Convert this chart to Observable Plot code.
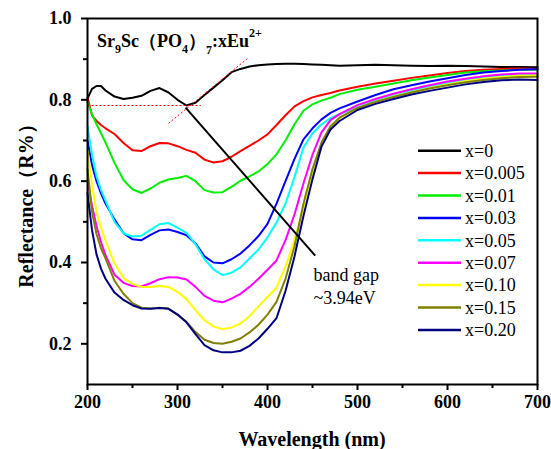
<!DOCTYPE html>
<html><head><meta charset="utf-8">
<script src="https://cdn.jsdelivr.net/npm/d3@7"></script>
<script src="https://cdn.jsdelivr.net/npm/@observablehq/plot@0.6"></script>
<style>body{margin:0;background:#fff} #chart{width:551px;height:449px}</style>
</head><body><div id="chart"></div>
<script>
const wavelength = [200,205,210,215,220,230,240,250,260,270,280,290,300,310,320,330,340,350,360,370,380,390,400,410,420,430,440,450,460,470,480,500,520,540,560,580,600,620,640,660,680,700];

const r_x0    = [0.803,0.827,0.834,0.834,0.823,0.808,0.802,0.805,0.810,0.822,0.829,0.818,0.800,0.786,0.793,0.812,0.830,0.848,0.868,0.876,0.882,0.885,0.887,0.888,0.889,0.889,0.888,0.887,0.886,0.885,0.884,0.885,0.886,0.885,0.884,0.883,0.884,0.883,0.882,0.881,0.881,0.880];
const r_x0005 = [0.806,0.762,0.748,0.738,0.730,0.716,0.694,0.676,0.674,0.686,0.694,0.693,0.686,0.677,0.670,0.653,0.646,0.649,0.660,0.674,0.687,0.700,0.715,0.738,0.762,0.784,0.797,0.806,0.812,0.817,0.823,0.832,0.840,0.847,0.854,0.860,0.866,0.871,0.874,0.876,0.877,0.876];
const r_x001  = [0.794,0.765,0.740,0.718,0.695,0.645,0.603,0.580,0.571,0.582,0.596,0.604,0.608,0.613,0.600,0.578,0.572,0.573,0.586,0.601,0.612,0.624,0.642,0.666,0.700,0.740,0.773,0.789,0.798,0.805,0.814,0.825,0.832,0.840,0.848,0.855,0.861,0.867,0.870,0.872,0.874,0.874];
const r_x003  = [0.700,0.640,0.600,0.570,0.545,0.506,0.472,0.457,0.455,0.468,0.479,0.481,0.475,0.467,0.447,0.415,0.400,0.398,0.408,0.422,0.442,0.465,0.495,0.545,0.600,0.655,0.703,0.730,0.752,0.768,0.779,0.796,0.812,0.826,0.836,0.845,0.853,0.861,0.867,0.871,0.874,0.875];
const r_x005  = [0.735,0.665,0.612,0.578,0.552,0.500,0.472,0.464,0.466,0.480,0.494,0.497,0.486,0.473,0.445,0.408,0.383,0.369,0.375,0.388,0.410,0.432,0.462,0.498,0.545,0.610,0.683,0.718,0.740,0.755,0.765,0.782,0.797,0.810,0.822,0.833,0.842,0.850,0.856,0.860,0.862,0.862];
const r_x007  = [0.600,0.540,0.490,0.450,0.418,0.370,0.350,0.342,0.341,0.349,0.359,0.364,0.363,0.358,0.340,0.318,0.306,0.302,0.311,0.323,0.340,0.360,0.382,0.405,0.455,0.518,0.595,0.665,0.720,0.750,0.765,0.787,0.802,0.815,0.826,0.836,0.845,0.852,0.858,0.862,0.865,0.865];
const r_x010  = [0.675,0.590,0.525,0.485,0.454,0.398,0.362,0.347,0.340,0.340,0.342,0.340,0.328,0.310,0.283,0.258,0.243,0.236,0.240,0.250,0.268,0.292,0.315,0.338,0.390,0.455,0.535,0.620,0.690,0.730,0.755,0.780,0.795,0.808,0.819,0.829,0.838,0.846,0.852,0.856,0.859,0.860];
const r_x015  = [0.630,0.525,0.470,0.435,0.410,0.355,0.323,0.300,0.289,0.287,0.289,0.287,0.272,0.254,0.229,0.210,0.202,0.200,0.205,0.213,0.228,0.247,0.272,0.303,0.360,0.440,0.545,0.630,0.695,0.735,0.756,0.780,0.795,0.807,0.818,0.828,0.836,0.843,0.849,0.853,0.856,0.857];
const r_x020  = [0.570,0.480,0.420,0.385,0.360,0.326,0.308,0.295,0.287,0.286,0.288,0.286,0.272,0.253,0.224,0.197,0.184,0.179,0.179,0.183,0.195,0.213,0.237,0.263,0.330,0.415,0.515,0.605,0.685,0.727,0.748,0.775,0.790,0.802,0.813,0.822,0.830,0.838,0.844,0.848,0.850,0.849];

const seriesNames  = ["x=0","x=0.005","x=0.01","x=0.03","x=0.05","x=0.07","x=0.10","x=0.15","x=0.20"];
const seriesColors = ["#000000","#ff0000","#00ee00","#0000ff","#00ffff","#ff00ff","#ffff00","#808000","#000080"];
const seriesValues = [r_x0,r_x0005,r_x001,r_x003,r_x005,r_x007,r_x010,r_x015,r_x020];

const xMajor = [200,300,400,500,600,700];
const xMinor = [250,350,450,550,650];
const yMajor = [0.2,0.4,0.6,0.8,1.0];
const yMinor = [0.3,0.5,0.7,0.9];

// band-gap construction lines (data units)
const baseLine    = [{x1:200,y1:0.786,x2:326,y2:0.786}];
const tangentLine = [{x1:290,y1:0.742,x2:379,y2:0.904}];
const pointerLine = [{x1:309,y1:0.781,x2:453,y2:0.417}];
const noteText    = [{x:451,y:0.355,t:"band gap"},{x:451,y:0.298,t:"~3.94eV"}];

const data = seriesNames.flatMap((name,i)=>wavelength.map((w,j)=>({name,w,r:seriesValues[i][j]})));
const serif = "'Liberation Serif','Times New Roman',Times,serif";

const chart = Plot.plot({
  width:551, height:449,
  marginLeft:87, marginRight:14, marginTop:18, marginBottom:65,
  style:{fontFamily:serif, fontSize:"18px", fontWeight:"bold", background:"#fff", color:"#000"},
  x:{domain:[200,700]},
  y:{domain:[0.1,1.0]},
  color:{domain:seriesNames, range:seriesColors},
  marks:[
    Plot.axisX({ticks:xMinor, tickSize:4, strokeWidth:2, tickFormat:()=>"", label:null}),
    Plot.axisX({ticks:xMajor, tickSize:6, strokeWidth:2, tickPadding:5, tickFormat:d=>String(d), label:null}),
    Plot.axisY({ticks:yMinor, tickSize:4, strokeWidth:2, tickFormat:()=>"", label:null}),
    Plot.axisY({ticks:yMajor, tickSize:6, strokeWidth:2, tickPadding:10, tickFormat:d3.format(".1f"), label:null}),
    Plot.line(data,{x:"w",y:"r",z:"name",stroke:"name",strokeWidth:2}),
    Plot.link(baseLine,{x1:"x1",y1:"y1",x2:"x2",y2:"y2",stroke:"#ff0000",strokeWidth:1,strokeDasharray:"2,2"}),
    Plot.link(tangentLine,{x1:"x1",y1:"y1",x2:"x2",y2:"y2",stroke:"#ff0000",strokeWidth:1,strokeDasharray:"2,2"}),
    Plot.link(pointerLine,{x1:"x1",y1:"y1",x2:"x2",y2:"y2",stroke:"#000",strokeWidth:2}),
    Plot.text(noteText,{x:"x",y:"y",text:"t",textAnchor:"start",lineAnchor:"bottom",fontWeight:"normal",fontSize:18,fill:"#000"}),
    Plot.frame({stroke:"#000",strokeWidth:2})
  ]
});
document.getElementById("chart").appendChild(chart);

const svg = d3.select(chart);
// axis titles
svg.append("text").attr("x",312).attr("y",446).attr("text-anchor","middle")
  .attr("font-family",serif).attr("font-weight","bold").attr("font-size",20).attr("fill","#000")
  .text("Wavelength (nm)");
svg.append("text").attr("transform","translate(33,201) rotate(-90)").attr("text-anchor","middle")
  .attr("font-family",serif).attr("font-weight","bold").attr("font-size",20).attr("fill","#000")
  .text("Reflectance（R%）");

// compound title
const t = svg.append("text").attr("x",97).attr("y",47).attr("text-anchor","start")
  .attr("font-family",serif).attr("font-weight","bold").attr("font-size",18).attr("fill","#000");
t.append("tspan").text("Sr");
t.append("tspan").attr("font-size",12).attr("dy",6).text("9");
t.append("tspan").attr("dy",-6).text("Sc（PO");
t.append("tspan").attr("font-size",12).attr("dy",6).text("4");
t.append("tspan").attr("dy",-6).text("）");
t.append("tspan").attr("font-size",12).attr("dy",7).text("7");
t.append("tspan").attr("dy",-7).text(":xEu");
t.append("tspan").attr("font-size",12).attr("dy",-10).text("2+");

// legend
const lg = svg.append("g").attr("text-anchor","start").attr("font-weight","normal");
seriesNames.forEach((name,i)=>{
  const yy = 150.7 + i*22.4;
  lg.append("line").attr("x1",418).attr("x2",461).attr("y1",yy).attr("y2",yy)
    .attr("stroke",seriesColors[i]).attr("stroke-width",2.5);
  lg.append("text").attr("x",465).attr("y",yy).attr("dy","0.35em").attr("text-anchor","start")
    .attr("font-family",serif).attr("font-weight","normal").attr("font-size",18).attr("fill","#000").text(name);
});
</script>
</body></html>
